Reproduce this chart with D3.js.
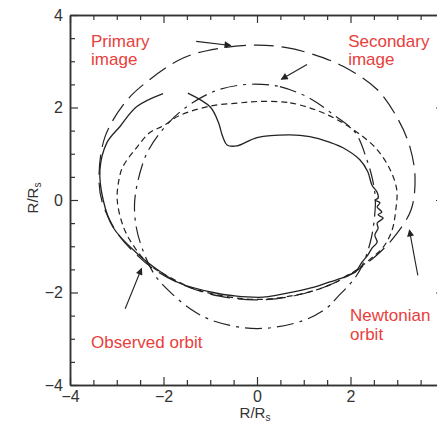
<!DOCTYPE html>
<html><head><meta charset="utf-8">
<script src="https://cdn.jsdelivr.net/npm/d3@7"></script>
<style>body{margin:0;background:#fff;overflow:hidden}</style>
</head><body><svg id="c" width="437" height="430"></svg>
<script>
// ---- data (units of R/Rs) ----
const majorTicks = [-4, -2, 0, 2, 4];
const xTickLabels = [-4, -2, 0, 2];
const minorTicks = [-3.5,-3,-2.5,-1.5,-1,-0.5,0.5,1,1.5,2.5,3,3.5];

// solid: observed orbit (open path)
const observedOrbit = [
  [-1.48,2.31],[-1.0,2.01],[-0.83,1.69],[-0.73,1.36],[-0.64,1.19],[-0.43,1.17],
  [0,1.35],[0.71,1.41],[1.13,1.37],[1.55,1.25],[1.84,1.13],[2.2,0.87],
  [2.37,0.61],[2.46,0.32],[2.57,0.17],[2.59,0.04],[2.52,0.0],[2.63,-0.06],
  [2.57,-0.15],[2.67,-0.26],[2.59,-0.32],[2.70,-0.39],[2.57,-0.50],[2.59,-0.61],
  [2.52,-0.76],[2.57,-0.91],[2.46,-1.04],[2.37,-1.19],[2.25,-1.34],[2.10,-1.56],
  [1.95,-1.62],[1.84,-1.68],[1.56,-1.77],[1.2,-1.89],[0.86,-1.97],[0.13,-2.1],
  [-0.5,-2.07],[-0.94,-2.0],[-1.65,-1.8],[-2.01,-1.59],[-2.57,-1.15],[-3.08,-0.59],
  [-3.29,0],[-3.36,0.65],[-3.21,1.24],[-2.93,1.59],[-2.57,2.02],[-2.01,2.3]
];

// long dash: primary image (closed)
const primaryImage = [
  [0,3.35],[0.6,3.30],[1.2,3.15],[1.84,2.89],[2.57,2.39],[3.02,1.74],[3.27,1.15],
  [3.38,0.5],[3.3,-0.2],[2.98,-0.74],[2.63,-1.13],[2.1,-1.55],[1.5,-1.86],[0.8,-2.07],
  [0,-2.16],[-0.8,-2.08],[-1.5,-1.87],[-2.1,-1.57],[-2.6,-1.16],[-3.0,-0.7],
  [-3.31,-0.05],[-3.38,0.5],[-3.25,1.37],[-2.82,2.11],[-2.40,2.52],[-1.58,3.07],[-0.8,3.28]
];

// short dash: secondary image (closed)
const secondaryImage = [
  [0,2.13],[0.71,2.1],[1.3,1.93],[1.78,1.7],[2.2,1.42],[2.57,1.09],[2.85,0.65],
  [2.99,0.22],[2.97,-0.2],[2.89,-0.65],[2.7,-1.02],[2.42,-1.28],[2.0,-1.6],[1.4,-1.9],
  [0.7,-2.08],[0,-2.15],[-0.7,-2.08],[-1.4,-1.9],[-1.9,-1.65],[-2.29,-1.41],[-2.6,-1.05],
  [-2.85,-0.6],[-2.99,0],[-2.95,0.45],[-2.87,0.72],[-2.6,1.1],[-2.29,1.46],[-2.01,1.6],
  [-1.65,1.83],[-1.0,2.03],[-0.36,2.1]
];

// dash-dot: Newtonian orbit (closed)
const newtonianOrbit = [
  [0.1,2.5],[0.49,2.45],[1.09,2.22],[1.63,1.85],[2.1,1.46],[2.35,0.87],[2.47,0.45],
  [2.53,0.05],[2.52,-0.3],[2.45,-0.8],[2.3,-1.3],[2.1,-1.68],[1.71,-2.11],[1.5,-2.33],
  [0.98,-2.61],[0,-2.78],[-0.94,-2.61],[-1.43,-2.35],[-1.9,-1.95],[-2.2,-1.6],
  [-2.44,-1.09],[-2.58,-0.6],[-2.62,-0.1],[-2.55,0.4],[-2.35,1.02],[-1.97,1.58],
  [-1.54,1.99],[-0.94,2.34],[-0.4,2.48]
];

// arrows [from, to]
const arrows = [
  [[-1.30,3.43],[-0.56,3.34]],
  [[1.07,2.93],[0.52,2.61]],
  [[-2.82,-2.35],[-2.47,-1.48]],
  [[3.44,-1.63],[3.26,-0.65]]
];

// labels [lines, x, first-baseline y] in data units
const labels = [
  [["Primary","image"], -3.55, 3.31],
  [["Secondary","image"], 1.95, 3.31],
  [["Observed orbit"], -3.55, -3.2],
  [["Newtonian","orbit"], 1.99, -2.62]
];

// ---- drawing ----
const svg = d3.select("#c");
const x = d3.scaleLinear().domain([-4,4]).range([70,444]);
const y = d3.scaleLinear().domain([-4,4]).range([385,15]);
const ink = "#222";

svg.append("defs").append("clipPath").attr("id","pc")
  .append("rect").attr("x",70).attr("y",15).attr("width",374).attr("height",370);
const mk = svg.select("defs").append("marker").attr("id","ah")
  .attr("viewBox","0 0 10 10").attr("refX",9).attr("refY",5)
  .attr("markerWidth",8).attr("markerHeight",7).attr("markerUnits","userSpaceOnUse")
  .attr("orient","auto");
mk.append("path").attr("d","M0,0 L10,5 L0,10 Z").attr("fill",ink);

const plot = svg.append("g").attr("clip-path","url(#pc)");
const lineOpen = d3.line().x(d=>x(d[0])).y(d=>y(d[1])).curve(d3.curveCatmullRom.alpha(0.5));
const lineClosed = d3.line().x(d=>x(d[0])).y(d=>y(d[1])).curve(d3.curveCatmullRomClosed.alpha(0.5));

plot.append("path").attr("d",lineClosed(primaryImage)).attr("fill","none")
  .attr("stroke",ink).attr("stroke-width",1.2).attr("stroke-dasharray","20,8");
plot.append("path").attr("d",lineClosed(secondaryImage)).attr("fill","none")
  .attr("stroke",ink).attr("stroke-width",1.2).attr("stroke-dasharray","6,4");
plot.append("path").attr("d",lineClosed(newtonianOrbit)).attr("fill","none")
  .attr("stroke",ink).attr("stroke-width",1.2).attr("stroke-dasharray","17,6,3,6");
plot.append("path").attr("d",lineOpen(observedOrbit)).attr("fill","none")
  .attr("stroke",ink).attr("stroke-width",1.3);

arrows.forEach(a=>{
  plot.append("line").attr("x1",x(a[0][0])).attr("y1",y(a[0][1]))
    .attr("x2",x(a[1][0])).attr("y2",y(a[1][1]))
    .attr("stroke",ink).attr("stroke-width",1.1).attr("marker-end","url(#ah)");
});

labels.forEach(l=>{
  const t = svg.append("text").attr("font-family","Liberation Sans, Arial, sans-serif")
    .attr("font-size",17).attr("fill","#e8403c");
  l[0].forEach((s,i)=>{
    t.append("tspan").attr("x",x(l[1])).attr("y",y(l[2]) + i*18.5).text(s);
  });
});

// axes
const axisColor = "#333";
function styleAxis(g){
  g.select(".domain").attr("stroke",axisColor).attr("stroke-width",1.5);
  g.selectAll(".tick line").attr("stroke",axisColor).attr("stroke-width",1.2);
  g.selectAll(".tick text").attr("font-family","Liberation Sans, Arial, sans-serif")
    .attr("font-size",16).attr("fill","#333");
}
const fmt = d=> d<0 ? "\u2212"+Math.abs(d) : ""+d;
svg.append("g").attr("transform","translate(0,385)")
  .call(d3.axisBottom(x).tickValues(xTickLabels).tickSize(-8).tickSizeOuter(0).tickPadding(6).tickFormat(fmt))
  .call(styleAxis);
svg.append("g").attr("transform","translate(0,385)")
  .call(d3.axisBottom(x).tickValues(minorTicks).tickSize(-5).tickSizeOuter(0).tickFormat(""))
  .call(styleAxis);
svg.append("g").attr("transform","translate(0,15)")
  .call(d3.axisTop(x).tickValues(majorTicks).tickSize(-8).tickSizeOuter(0).tickFormat(""))
  .call(styleAxis);
svg.append("g").attr("transform","translate(0,15)")
  .call(d3.axisTop(x).tickValues(minorTicks).tickSize(-5).tickSizeOuter(0).tickFormat(""))
  .call(styleAxis);
svg.append("g").attr("transform","translate(70,0)")
  .call(d3.axisLeft(y).tickValues(majorTicks).tickSize(-8).tickSizeOuter(0).tickPadding(7).tickFormat(fmt))
  .call(styleAxis);
svg.append("g").attr("transform","translate(70,0)")
  .call(d3.axisLeft(y).tickValues(minorTicks).tickSize(-5).tickSizeOuter(0).tickFormat(""))
  .call(styleAxis);
svg.append("g").attr("transform","translate(444,0)")
  .call(d3.axisRight(y).tickValues(majorTicks).tickSize(-8).tickSizeOuter(0).tickFormat(""))
  .call(styleAxis);
svg.append("g").attr("transform","translate(444,0)")
  .call(d3.axisRight(y).tickValues(minorTicks).tickSize(-5).tickSizeOuter(0).tickFormat(""))
  .call(styleAxis);

// axis titles
const xt = svg.append("text").attr("x",255).attr("y",418).attr("text-anchor","middle")
  .attr("font-family","Liberation Sans, Arial, sans-serif").attr("font-size",15).attr("fill","#333");
xt.append("tspan").text("R/R");
xt.append("tspan").attr("font-size",10).attr("dy",3).text("s");
const yt = svg.append("text").attr("transform","translate(38,198) rotate(-90)").attr("text-anchor","middle")
  .attr("font-family","Liberation Sans, Arial, sans-serif").attr("font-size",15).attr("fill","#333");
yt.append("tspan").text("R/R");
yt.append("tspan").attr("font-size",10).attr("dy",3).text("s");
</script></body></html>
